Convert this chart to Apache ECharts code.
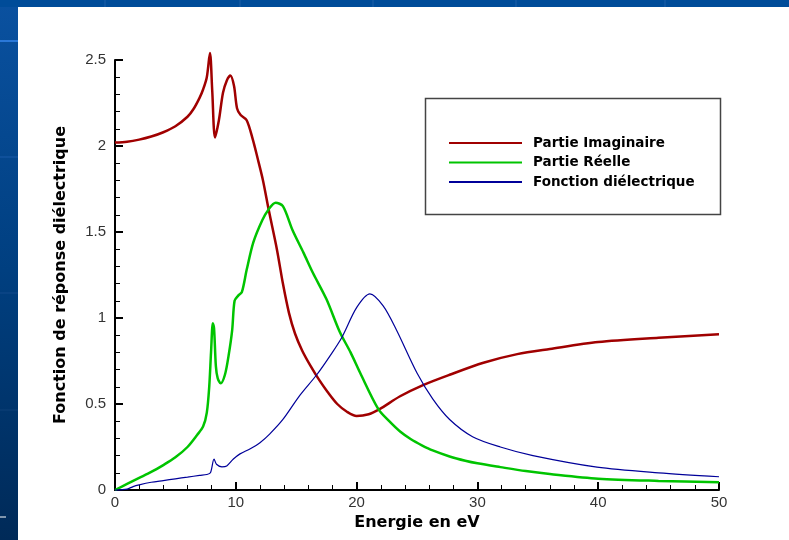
<!DOCTYPE html>
<html>
<head>
<meta charset="utf-8">
<script src="https://cdn.jsdelivr.net/npm/echarts@6/dist/echarts.min.js"></script>
<style>
html,body{margin:0;padding:0;background:#fff;}
#chart{width:789px;height:540px;}
</style>
</head>
<body>
<div id="chart"></div>
<script>
// ---- Data ----
const seriesNames = ['Partie Imaginaire', 'Partie Réelle', 'Fonction diélectrique'];

const imagE = [0,1,2,3,4,5,6,6.5,7,7.3,7.6,7.86,8.05,8.28,8.6,8.94,9.25,9.55,9.85,10.1,10.4,10.9,11.4,11.8,12.25,12.75,13.4,13.9,14.4,14.9,15.5,16.2,16.9,17.6,18.4,19.2,20,21,21.9,23.6,25.5,27.7,30.5,33.3,36,40,45,50];
const imagV = [2.02,2.025,2.037,2.055,2.08,2.115,2.17,2.215,2.28,2.33,2.40,2.54,2.32,2.05,2.15,2.31,2.38,2.41,2.35,2.22,2.18,2.15,2.04,1.93,1.80,1.62,1.40,1.20,1.03,0.91,0.81,0.72,0.64,0.57,0.50,0.455,0.43,0.44,0.47,0.545,0.61,0.67,0.74,0.79,0.82,0.86,0.885,0.905];

const realE = [0,1,2,3,4,5,6,6.8,7.3,7.6,7.8,7.95,8.1,8.2,8.35,8.5,8.75,9.1,9.4,9.7,9.9,10.2,10.5,10.9,11.45,12.2,12.7,13.3,13.9,14.7,15.6,16.4,17.5,18.6,19.5,20.3,21.8,22.7,23.6,24.5,25.4,26.3,27.7,29,30,31.9,34,36,40,45,50];
const realV = [0,0.035,0.07,0.105,0.145,0.19,0.25,0.32,0.37,0.45,0.6,0.8,0.97,0.94,0.72,0.65,0.62,0.67,0.78,0.93,1.1,1.13,1.15,1.28,1.44,1.57,1.63,1.67,1.65,1.51,1.38,1.26,1.11,0.92,0.80,0.68,0.47,0.40,0.34,0.295,0.26,0.23,0.195,0.17,0.155,0.133,0.11,0.093,0.066,0.053,0.045];

const dielE = [0,1,1.5,2,3,4,5,6,7,7.6,7.9,8.2,8.4,8.85,9.25,9.8,10.35,11.2,12,12.8,13.9,15.3,16.7,17.8,18.8,20,21.1,22.2,23.3,25,26.3,27.7,29.6,31.9,34.6,39.9,45,50];
const dielV = [0,0.005,0.02,0.03,0.045,0.055,0.065,0.075,0.085,0.09,0.1,0.18,0.15,0.135,0.14,0.18,0.21,0.24,0.275,0.325,0.41,0.55,0.67,0.78,0.89,1.06,1.14,1.07,0.93,0.68,0.53,0.41,0.31,0.25,0.20,0.133,0.1,0.077];

const xTicks = [0,10,20,30,40,50];
const yTicks = [0,0.5,1,1.5,2,2.5];

function pairs(xs, ys){ return xs.map((x,i)=>[x, ys[i]]); }

const font = 'Arial, "Liberation Sans", sans-serif';
const wideFont = '"DejaVu Sans", Verdana, sans-serif';
const chart = echarts.init(document.getElementById('chart'), null, {renderer:'canvas'});

const bgGrad = new echarts.graphic.LinearGradient(0,0,0,1,[
  {offset:0,color:'#0a51a0'},{offset:0.5,color:'#003f80'},{offset:1,color:'#002a58'}
]);

chart.setOption({
  backgroundColor:'#ffffff',
  animation:false,
  textStyle:{fontFamily:font},
  graphic:{elements:[
    {type:'rect',z:-10,silent:true,shape:{x:0,y:0,width:789,height:540},style:{fill:bgGrad}},
    {type:'rect',z:-9,silent:true,shape:{x:0,y:0,width:789,height:7},style:{fill:'#004c99'}},
    {type:'rect',z:-8,silent:true,shape:{x:18,y:7,width:771,height:533},style:{fill:'#ffffff'}},
    {type:'line',z:-8,silent:true,shape:{x1:0,y1:41,x2:18,y2:41},style:{stroke:'#2a78d8',lineWidth:2}},
    {type:'line',z:-8,silent:true,shape:{x1:0,y1:157,x2:18,y2:157},style:{stroke:'#1a5aa8',lineWidth:1}},
    {type:'line',z:-8,silent:true,shape:{x1:0,y1:293,x2:18,y2:293},style:{stroke:'#124b8c',lineWidth:1}},
    {type:'line',z:-8,silent:true,shape:{x1:0,y1:410,x2:18,y2:410},style:{stroke:'#0e4078',lineWidth:1}},
    {type:'line',z:-8,silent:true,shape:{x1:0,y1:517,x2:6,y2:517},style:{stroke:'#ffffff',lineWidth:1}},
    {type:'line',z:-8,silent:true,shape:{x1:105,y1:0,x2:105,y2:7},style:{stroke:'#1c5ea6',lineWidth:1}},
    {type:'line',z:-8,silent:true,shape:{x1:240,y1:0,x2:240,y2:7},style:{stroke:'#1c5ea6',lineWidth:1}},
    {type:'line',z:-8,silent:true,shape:{x1:373,y1:0,x2:373,y2:7},style:{stroke:'#1c5ea6',lineWidth:1}},
    {type:'line',z:-8,silent:true,shape:{x1:516,y1:0,x2:516,y2:7},style:{stroke:'#1c5ea6',lineWidth:1}},
    {type:'line',z:-8,silent:true,shape:{x1:665,y1:0,x2:665,y2:7},style:{stroke:'#1c5ea6',lineWidth:1}},
    {type:'rect',z:50,silent:true,shape:{x:425.5,y:98.5,width:295,height:116},style:{fill:'rgba(0,0,0,0)',stroke:'#444',lineWidth:1.5}}
  ]},
  legend:{
    orient:'vertical',
    left:448, top:136,
    padding:0,
    itemWidth:73, itemHeight:14, itemGap:5.5,
    data:seriesNames,
    itemStyle:{opacity:0},
    textStyle:{fontFamily:wideFont,fontSize:13.5,fontWeight:'bold',color:'#000',padding:[0,0,0,6]}
  },
  grid:{left:115,right:70,top:60,bottom:50,containLabel:false},
  xAxis:{
    type:'value', min:0, max:50, interval:10,
    name:'Energie en eV', nameLocation:'middle', nameGap:22,
    nameTextStyle:{fontFamily:wideFont,fontSize:16,fontWeight:'bold',color:'#000'},
    axisLine:{show:true,onZero:false,lineStyle:{color:'#000',width:2}},
    axisTick:{show:true,inside:true,length:8,lineStyle:{color:'#000',width:2}},
    minorTick:{show:true,splitNumber:5,length:5,lineStyle:{color:'#000',width:1}},
    splitLine:{show:false},
    axisLabel:{fontFamily:font,fontSize:15,color:'#333',margin:5,
      formatter:v=>xTicks.includes(v)?String(v):''}
  },
  yAxis:{
    type:'value', min:0, max:2.5, interval:0.5,
    name:'Fonction de réponse diélectrique', nameLocation:'middle', nameGap:46,
    nameTextStyle:{fontFamily:wideFont,fontSize:16,fontWeight:'bold',color:'#000'},
    axisLine:{show:true,onZero:false,lineStyle:{color:'#000',width:2}},
    axisTick:{show:true,inside:true,length:8,lineStyle:{color:'#000',width:2}},
    minorTick:{show:true,splitNumber:5,length:5,lineStyle:{color:'#000',width:1}},
    splitLine:{show:false},
    axisLabel:{fontFamily:font,fontSize:15,color:'#333',margin:9,
      formatter:v=>yTicks.includes(v)?String(v):''}
  },
  series:[
    {name:seriesNames[0],type:'line',data:pairs(imagE,imagV),symbol:'none',smooth:0.3,clip:false,
     lineStyle:{color:'#a00000',width:2.5},itemStyle:{color:'#a00000'}},
    {name:seriesNames[1],type:'line',data:pairs(realE,realV),symbol:'none',smooth:0.3,clip:false,
     lineStyle:{color:'#00c400',width:2.5},itemStyle:{color:'#00c400'}},
    {name:seriesNames[2],type:'line',data:pairs(dielE,dielV),symbol:'none',smooth:0.3,clip:false,
     lineStyle:{color:'#000099',width:1.2},itemStyle:{color:'#000099'}}
  ]
});
</script>
</body>
</html>
